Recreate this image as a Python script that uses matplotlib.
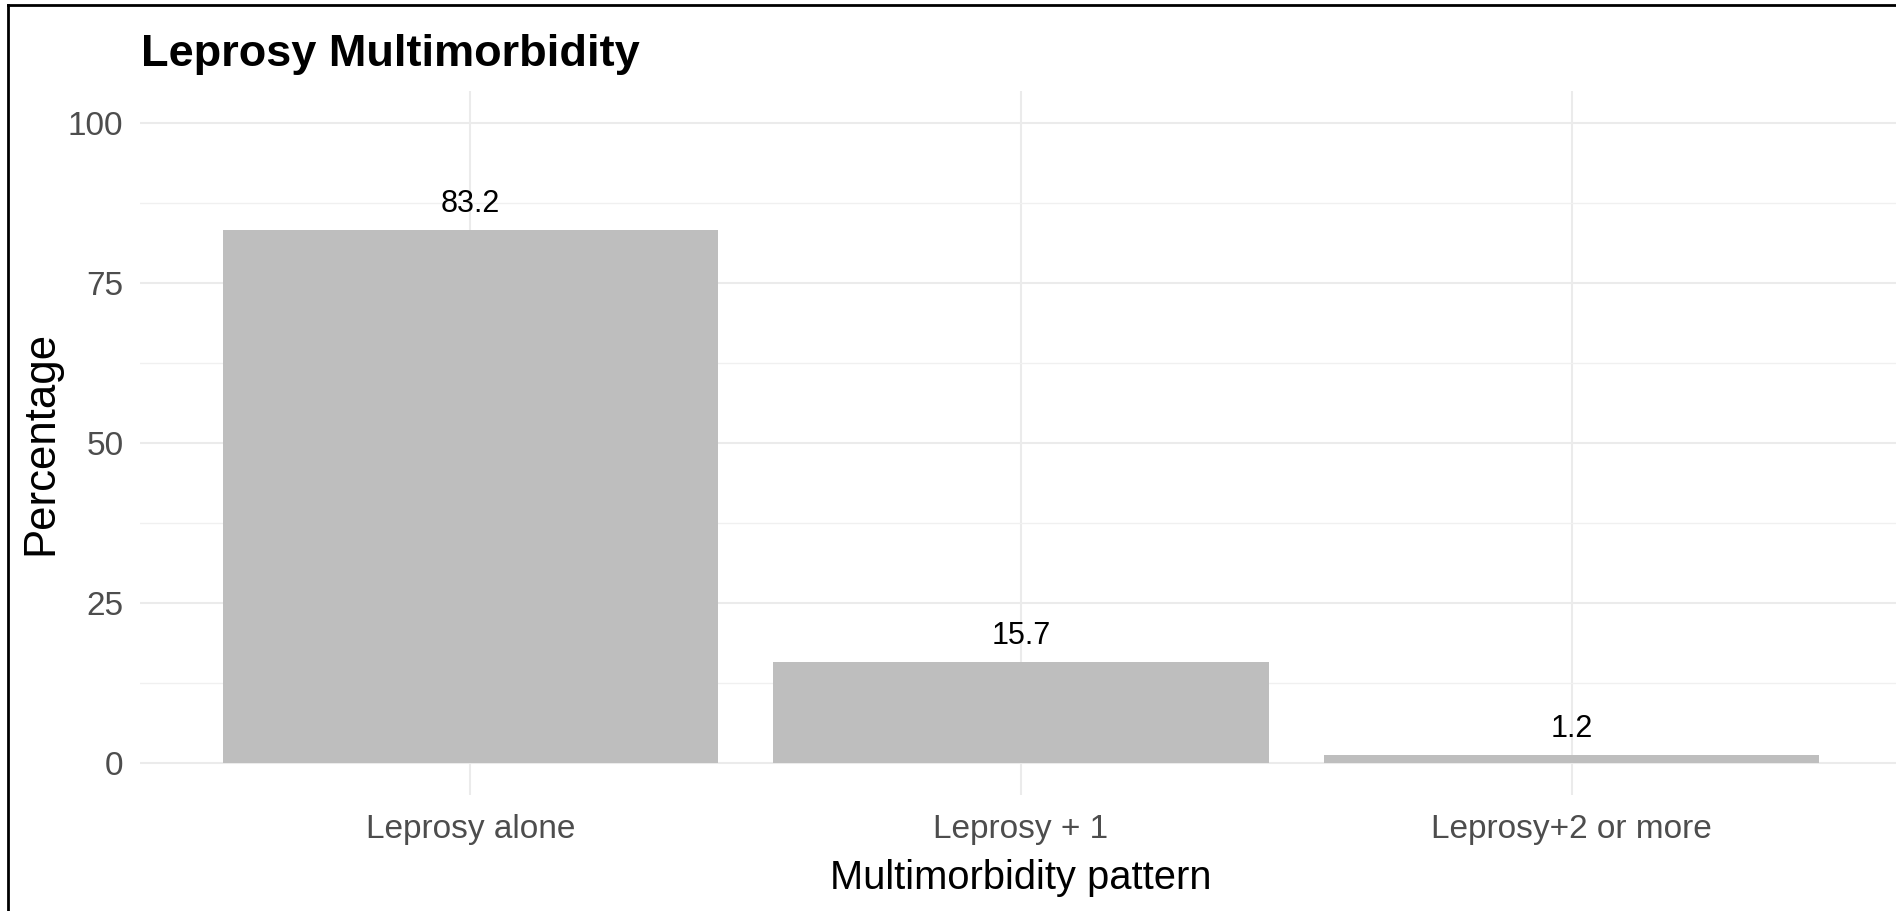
import matplotlib
matplotlib.use("Agg")
import matplotlib.pyplot as plt
from matplotlib.lines import Line2D

categories = ["Leprosy alone", "Leprosy + 1", "Leprosy+2 or more"]
percentages = [83.2, 15.7, 1.2]
y_ticks = [0, 25, 50, 75, 100]
y_minor = [12.5, 37.5, 62.5, 87.5]

plt.rcParams['font.family'] = ['Liberation Sans', 'DejaVu Sans']

W, H = 1896, 911
fig = plt.figure(figsize=(W / 100, H / 100), dpi=100)
fig.patch.set_facecolor("white")

left_px, right_px, top_px, bot_px = 140, 1902, 90.7, 795
ax = fig.add_axes([left_px / W, 1 - bot_px / H, (right_px - left_px) / W, (bot_px - top_px) / H])
ax.set_facecolor("white")

x = list(range(1, len(categories) + 1))
ax.bar(x, percentages, width=0.9, color="#BEBEBE", zorder=2)
for xi, v in zip(x, percentages):
    ax.annotate(f"{v:.1f}", (xi, v), xytext=(0, 8), textcoords="offset points",
                ha="center", va="bottom", fontsize=22, color="black", zorder=3)

ax.set_xlim(0.4, 3.6)
ax.set_ylim(-5, 105)
ax.set_xticks(x)
ax.set_xticklabels(categories)
ax.set_yticks(y_ticks)
ax.set_yticks(y_minor, minor=True)
ax.tick_params(axis="both", which="both", length=0)
ax.tick_params(axis="x", labelsize=24, labelcolor="#4D4D4D", pad=14)
ax.tick_params(axis="y", labelsize=24, labelcolor="#4D4D4D", pad=12)

ax.grid(True, which="major", color="#EBEBEB", linewidth=1.5, zorder=0)
ax.grid(True, which="minor", axis="y", color="#F0F0F0", linewidth=1.0, zorder=0)
ax.set_axisbelow(True)
for s in ax.spines.values():
    s.set_visible(False)

ax.set_xlabel("Multimorbidity pattern", fontsize=28.7, color="black")
ax.xaxis.label.set_va("baseline")
ax.xaxis.set_label_coords(0.5, -(889 - bot_px) / (bot_px - top_px))
ax.set_ylabel("Percentage", fontsize=31.5, color="black", labelpad=4.6)

fig.text(141 / W, 1 - 66 / H, "Leprosy Multimorbidity", fontsize=32.5, fontweight="bold",
         ha="left", va="baseline", color="black")

# border lines (left and top)
fig.add_artist(Line2D([8 / W, 8 / W], [0, 1 - 5 / H], transform=fig.transFigure, color="black", linewidth=2))
fig.add_artist(Line2D([8 / W, 1], [1 - 5 / H, 1 - 5 / H], transform=fig.transFigure, color="black", linewidth=2))

fig.savefig("out.png", dpi=100, facecolor="white")
